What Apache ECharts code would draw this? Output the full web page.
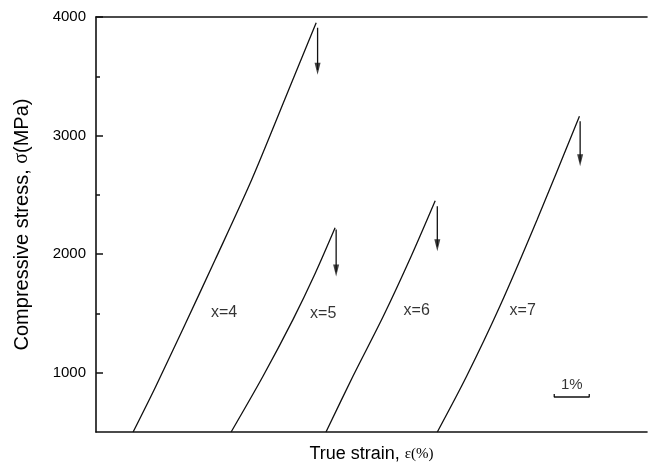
<!DOCTYPE html>
<html>
<head>
<meta charset="utf-8">
<script src="https://cdn.jsdelivr.net/npm/echarts@6/dist/echarts.min.js"></script>
<style>
  html, body { margin: 0; padding: 0; background: #fff; }
  #chart { width: 648px; height: 464px; }
</style>
</head>
<body>
<div id="chart"></div>
<script>
var chart = echarts.init(document.getElementById('chart'), null, { renderer: 'canvas' });

// curves: true strain (%) vs compressive stress (MPa)
var strainX4 = [1.06, 1.7, 2.5, 3.4, 4.45, 5.4, 6.29];
var stressX4 = [500, 880, 1380, 1950, 2629, 3310, 3952];
var strainX5 = [3.86, 4.77, 5.63, 6.25, 6.83];
var stressX5 = [500, 970, 1450, 1830, 2222];
var strainX6 = [6.57, 7.34, 8.21, 9.0, 9.69];
var stressX6 = [500, 970, 1478, 1980, 2450];
var strainX7 = [9.75, 10.59, 11.54, 12.6, 13.81];
var stressX7 = [500, 972, 1562, 2290, 3163];

// fracture arrows
var arrowStrain = [6.33, 6.86, 9.75, 13.83];
var arrowTop = [3910, 2208, 2404, 3120];
var arrowBottom = [3514, 1812, 2025, 2741];

// curve labels
var labelNames = ['x=4', 'x=5', 'x=6', 'x=7'];
var labelStrain = [3.66, 6.49, 9.16, 12.19];
var labelStress = [1508, 1495, 1520, 1520];

// 1% scale bar
var scaleStrain = [13.09, 14.09];
var scaleStress = 795;
var scaleText = '1%';

var yTicks = [1000, 2000, 3000, 4000];
var yMinorTicks = [1500, 2500, 3500];

var ink = '#111';

function pairs(xs, ys) {
    var out = [];
    for (var i = 0; i < xs.length; i++) out.push([xs[i], ys[i]]);
    return out;
}

var series = [];
[[strainX4, stressX4], [strainX5, stressX5], [strainX6, stressX6], [strainX7, stressX7]].forEach(function (c) {
    series.push({
        type: 'line',
        data: pairs(c[0], c[1]),
        smooth: 0.3,
        showSymbol: false,
        silent: true,
        lineStyle: { color: ink, width: 1.3 }
    });
});

// arrow shafts
for (var i = 0; i < arrowStrain.length; i++) {
    series.push({
        type: 'line',
        data: [[arrowStrain[i], arrowTop[i]], [arrowStrain[i], arrowBottom[i] + 40]],
        showSymbol: false,
        silent: true,
        lineStyle: { color: ink, width: 1.3 }
    });
}
// arrow heads
series.push({
    type: 'scatter',
    data: pairs(arrowStrain, arrowBottom),
    symbol: 'path://M0,0 L10,0 L5,20 Z',
    symbolSize: [6, 12],
    symbolOffset: [0, -6],
    silent: true,
    itemStyle: { color: ink }
});

// curve labels
series.push({
    type: 'scatter',
    data: labelStrain.map(function (x, i) { return { value: [x, labelStress[i]], name: labelNames[i] }; }),
    symbolSize: 1,
    itemStyle: { color: 'rgba(0,0,0,0)' },
    silent: true,
    label: {
        show: true,
        position: 'inside',
        formatter: '{b}',
        color: '#000',
        fontSize: 16,
        fontFamily: 'Liberation Sans'
    }
});

// scale bar
series.push({
    type: 'line',
    data: [[scaleStrain[0], scaleStress + 25], [scaleStrain[0], scaleStress], [scaleStrain[1], scaleStress], [scaleStrain[1], scaleStress + 25]],
    showSymbol: false,
    silent: true,
    lineStyle: { color: ink, width: 1.3 }
});
series.push({
    type: 'scatter',
    data: [{ value: [(scaleStrain[0] + scaleStrain[1]) / 2, scaleStress + 100], name: scaleText }],
    symbolSize: 1,
    itemStyle: { color: 'rgba(0,0,0,0)' },
    silent: true,
    label: {
        show: true,
        position: 'inside',
        formatter: '{b}',
        color: '#000',
        fontSize: 15,
        fontFamily: 'Liberation Sans'
    }
});

chart.setOption({
    animation: false,
    backgroundColor: '#fff',
    grid: { left: 96, right: 1, top: 17, bottom: 32, outerBoundsMode: 'none', containLabel: false },
    xAxis: [
        {
            type: 'value',
            min: 0,
            max: 15.74,
            position: 'bottom',
            axisLine: { show: true, lineStyle: { color: ink, width: 1.6 } },
            axisTick: { show: false },
            axisLabel: { show: false },
            splitLine: { show: false },
            name: 'True strain, {e|ε(%)}',
            nameLocation: 'middle',
            nameGap: 13,
            nameTextStyle: {
                color: '#000',
                fontSize: 18,
                fontFamily: 'Liberation Sans',
                rich: { e: { fontSize: 15, fontFamily: 'Liberation Serif', color: '#000' } }
            }
        },
        {
            type: 'value',
            min: 0,
            max: 15.74,
            position: 'top',
            axisLine: { show: true, lineStyle: { color: ink, width: 1.6 } },
            axisTick: { show: false },
            axisLabel: { show: false },
            splitLine: { show: false }
        }
    ],
    yAxis: [
        {
            type: 'value',
            min: 500,
            max: 4000,
            position: 'left',
            axisLine: { show: true, lineStyle: { color: ink, width: 1.6 } },
            axisTick: { show: true, inside: true, length: 7, customValues: yTicks, lineStyle: { color: ink, width: 1.5 } },
            axisLabel: {
                show: true,
                customValues: yTicks,
                margin: 10,
                color: '#000',
                fontSize: 15,
                fontFamily: 'Liberation Sans',
                formatter: function (v) { return String(v); }
            },
            splitLine: { show: false },
            name: 'Compressive stress, {s|σ}(MPa)',
            nameLocation: 'middle',
            nameGap: 64,
            nameRotate: 90,
            nameTextStyle: {
                color: '#000',
                fontSize: 20,
                fontFamily: 'Liberation Sans',
                rich: { s: { fontSize: 20, fontFamily: 'Liberation Serif', color: '#000' } }
            }
        },
        {
            type: 'value',
            min: 500,
            max: 4000,
            position: 'left',
            axisLine: { show: false },
            axisTick: { show: true, inside: true, length: 4, customValues: yMinorTicks, lineStyle: { color: ink, width: 1.5 } },
            axisLabel: { show: false },
            splitLine: { show: false }
        }
    ],
    series: series
});
</script>
</body>
</html>
